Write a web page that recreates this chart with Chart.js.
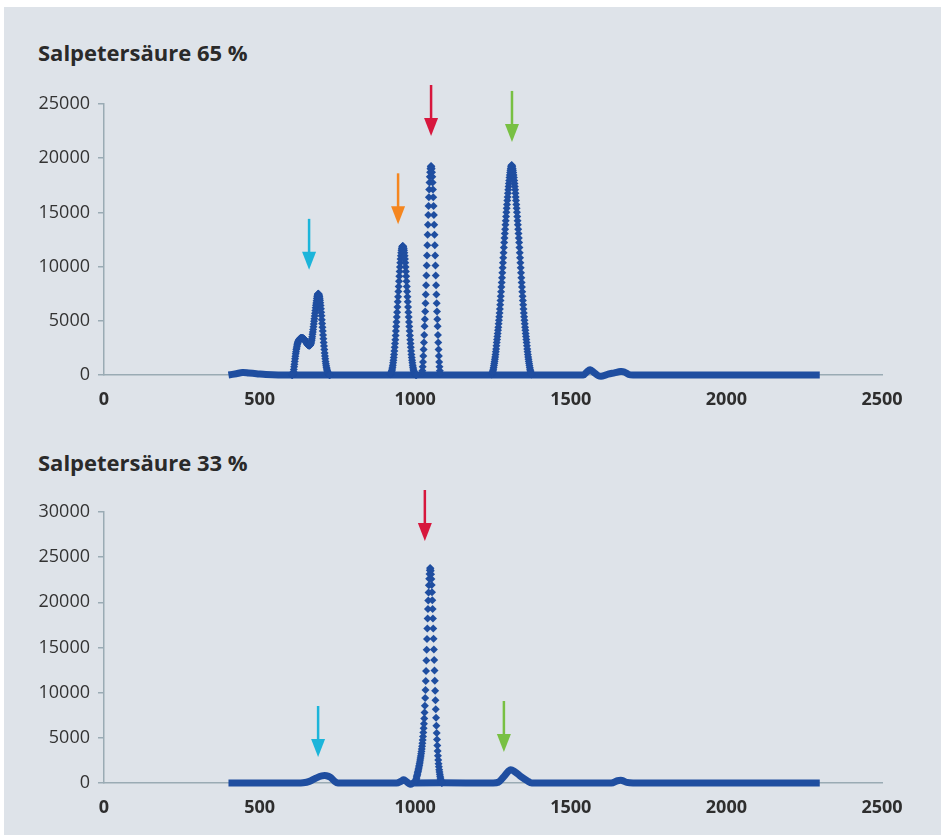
<!DOCTYPE html>
<html lang="de">
<head>
<meta charset="utf-8">
<script src="https://cdn.jsdelivr.net/npm/chart.js@4.4.1/dist/chart.umd.min.js"></script>
<style>
  html, body { margin: 0; padding: 0; background: #fff; }
  #panel { position: absolute; left: 4px; top: 7px; width: 937px; height: 828px; background: #dee3e9; }
  .titel { position: absolute; left: 38px; font: bold 22px "Open Sans"; line-height: 22px; color: #2a2a2a; }
  .box { position: absolute; left: 0; width: 943px; }
</style>
</head>
<body>
<div id="panel"></div>
<div class="titel" style="top:41px">Salpetersäure 65 %</div>
<div class="box" style="top:0;height:420px"><canvas id="chart65"></canvas></div>
<div class="titel" style="top:451px">Salpetersäure 33 %</div>
<div class="box" style="top:420px;height:415px"><canvas id="chart33"></canvas></div>
<script>
// Achsen
const xTicks = [0, 500, 1000, 1500, 2000, 2500];
const yTicks65 = [0, 5000, 10000, 15000, 20000, 25000];
const yTicks33 = [0, 5000, 10000, 15000, 20000, 25000, 30000];

// --- 65 % ---
// Grundlinie (flache Bereiche + kleine Buckel)
const grundX65 = [400, 425, 445, 465, 490, 520, 560, 1540, 1552, 1562, 1574, 1588, 1602, 1620, 1640, 1660, 1672, 1686, 1700, 2300];
const grundY65 = [0, 120, 220, 180, 120, 40, 0, 0, 300, 480, 250, -60, -100, 80, 200, 320, 280, 50, 0, 0];

// Peaks: Startwert, Schrittweite, Intensitäten
const peakStart65 = [604, 920, 1022, 1246];
const peakSchritt65 = [1, 1, 1, 1];
const peak65a = [0, 5, 20, 70, 150, 300, 500, 750, 1000, 1250, 1500, 1730, 1950, 2150, 2350, 2500, 2650, 2780, 2900, 2990,
  3080, 3140, 3200, 3250, 3300, 3330, 3360, 3380, 3400, 3410, 3420, 3420, 3420, 3410, 3400, 3390, 3380, 3360, 3340, 3310,
  3280, 3240, 3200, 3150, 3100, 3050, 3000, 2950, 2900, 2860, 2820, 2790, 2760, 2740, 2720, 2710, 2710, 2720, 2740, 2790,
  2850, 2940, 3050, 3190, 3350, 3540, 3750, 3970, 4200, 4450, 4700, 4950, 5200, 5450, 5700, 5950, 6200, 6430, 6650, 6860,
  7050, 7210, 7350, 7440, 7500, 7490, 7450, 7360, 7250, 7090, 6900, 6660, 6400, 6110, 5800, 5460, 5100, 4750, 4400, 4050,
  3700, 3350, 3000, 2670, 2350, 2040, 1750, 1490, 1250, 1040, 850, 690, 550, 430, 330, 250, 180, 120, 80, 50, 30, 10, 0];
const peak65b = [60, 100, 150, 220, 300, 420, 550, 720, 900, 1120, 1350, 1620, 1900, 2220, 2550, 2900, 3250, 3650, 4050, 4470,
  4900, 5350, 5800, 6270, 6750, 7220, 7700, 8170, 8650, 9100, 9550, 9960, 10350, 10690, 11000, 11270, 11500, 11670, 11800, 11880,
  11900, 11880, 11800, 11670, 11500, 11270, 11000, 10690, 10350, 9960, 9550, 9100, 8650, 8170, 7700, 7220, 6750, 6270, 5800, 5350,
  4900, 4470, 4050, 3650, 3250, 2900, 2550, 2220, 1900, 1620, 1350, 1120, 900, 720, 550, 420, 300, 220, 150, 100,
  60, 40, 20, 10, 0];
const peak65c = [150, 400, 750, 1200, 1750, 2350, 3000, 3700, 4490, 5140, 5850, 6610, 7420, 8270, 9170, 10090, 11030, 11980, 12930, 13850,
  14750, 15600, 16400, 17120, 17750, 18290, 18710, 19030, 19220, 19280, 19220, 19030, 18710, 18290, 17750, 17120, 16400, 15600, 14750, 13850,
  12930, 11980, 11030, 10090, 9170, 8270, 7420, 6610, 5850, 5140, 4490, 3700, 3000, 2350, 1750, 1200, 750, 400, 150];
const peak65d = [50, 100, 180, 280, 400, 540, 700, 870, 1050, 1240, 1450, 1670, 1900, 2140, 2400, 2700, 3000, 3280, 3560, 3830,
  4120, 4410, 4720, 5040, 5380, 5730, 6100, 6480, 6870, 7270, 7680, 8110, 8540, 8980, 9430, 9890, 10350, 10820, 11280, 11760,
  12220, 12640, 13050, 13450, 13850, 14240, 14630, 15010, 15380, 15740, 16090, 16430, 16760, 17080, 17380, 17670, 17950, 18210, 18450, 18680,
  18880, 19050, 19200, 19310, 19370, 19310, 19200, 19050, 18880, 18680, 18450, 18210, 17950, 17670, 17380, 17080, 16760, 16430, 16090, 15740,
  15380, 15010, 14630, 14240, 13850, 13450, 13050, 12640, 12220, 11760, 11280, 10820, 10350, 9890, 9430, 8980, 8540, 8110, 7680, 7270,
  6870, 6480, 6100, 5730, 5380, 5040, 4720, 4410, 4120, 3830, 3560, 3280, 3000, 2700, 2400, 2140, 1900, 1670, 1450, 1240,
  1050, 870, 700, 540, 400, 280, 180, 100, 50];

// Pfeile: Position, Spitze (Intensität), Farbe
const pfeilX65 = [659, 945, 1051, 1311];
const pfeilSpitze65 = [9700, 13900, 22050, 21500];
const pfeilFarbe65 = ["#1cb5da", "#f5861f", "#d7173d", "#78c043"];

// --- 33 % ---
const grundX33 = [400, 620, 640, 660, 680, 700, 715, 728, 740, 752, 940, 955, 963, 972, 985, 995, 1250, 1267, 1285, 1305, 1320, 1340, 1360, 1375, 1630, 1650, 1665, 1680, 1700, 2300];
const grundY33 = [0, 0, 30, 180, 520, 780, 800, 620, 220, 0, 0, 200, 350, 150, -150, 0, 0, 80, 700, 1450, 1250, 700, 250, 0, 0, 250, 280, 60, 0, 0];

const peakStart33 = [1000];
const peakSchritt33 = [1];
const peak33a = [100, 180, 280, 400, 530, 680, 830, 980, 1130, 1280, 1430, 1590, 1760, 1940, 2130, 2330, 2540, 2760, 2990, 3230,
  3490, 3770, 4070, 4400, 4760, 5150, 5580, 6050, 6560, 7150, 7800, 8550, 9400, 10300, 11300, 12400, 13550, 14750, 15950, 17100,
  18200, 19250, 20200, 21100, 21900, 22600, 23150, 23550, 23800, 23720, 23490, 23100, 22570, 21910, 21130, 20240, 19260, 18210, 17100, 15960,
  14790, 13620, 12450, 11320, 10210, 9160, 8160, 7220, 6350, 5540, 4810, 4140, 3550, 3020, 2550, 2140, 1790, 1480, 1220, 980,
  760, 560, 380, 230, 110, 40, 0];

const pfeilX33 = [688, 1031, 1285];
const pfeilSpitze33 = [2880, 26790, 3430];
const pfeilFarbe33 = ["#1cb5da", "#d7173d", "#78c043"];

const blau = "#1f4ea0";
const achsenFarbe = "#9aabb4";

function punkte(xs, ys) {
  return xs.map((x, i) => ({ x: x, y: ys[i] }));
}

function peakPunkte(starts, schritte, listen) {
  const out = [];
  listen.forEach((werte, k) => {
    werte.forEach((v, i) => out.push({ x: starts[k] + i * schritte[k], y: v }));
  });
  return out;
}

function pfeilPlugin(xs, spitzen, farben) {
  return {
    id: "pfeile",
    afterDatasetsDraw(chart) {
      const { ctx, scales } = chart;
      ctx.save();
      xs.forEach((xv, i) => {
        const px = scales.x.getPixelForValue(xv);
        const py = scales.y.getPixelForValue(spitzen[i]);
        ctx.strokeStyle = farben[i];
        ctx.fillStyle = farben[i];
        ctx.lineWidth = 2.5;
        ctx.beginPath();
        ctx.moveTo(px, py - 51);
        ctx.lineTo(px, py - 15);
        ctx.stroke();
        ctx.beginPath();
        ctx.moveTo(px - 7, py - 18);
        ctx.lineTo(px + 7, py - 18);
        ctx.lineTo(px, py);
        ctx.closePath();
        ctx.fill();
      });
      ctx.restore();
    }
  };
}

function diagramm(id, grund, peaks, yTicks, oben, xHoehe, plugin) {
  return new Chart(document.getElementById(id), {
    type: "scatter",
    data: {
      datasets: [
        {
          data: peaks,
          pointStyle: "rectRot",
          pointRadius: 4,
          pointBorderWidth: 0,
          backgroundColor: blau,
          borderColor: blau,
          clip: false
        },
        {
          data: grund,
          showLine: true,
          pointRadius: 0,
          borderWidth: 7,
          borderColor: blau,
          tension: 0.35,
          clip: false
        }
      ]
    },
    options: {
      responsive: true,
      maintainAspectRatio: false,
      animation: false,
      layout: { padding: { top: oben, right: 61, bottom: 0, left: 0 } },
      plugins: { legend: { display: false }, tooltip: { enabled: false } },
      scales: {
        x: {
          type: "linear",
          min: xTicks[0],
          max: xTicks[xTicks.length - 1],
          z: 1,
          grid: { display: false, drawTicks: false },
          border: { display: true, color: achsenFarbe, width: 1.5 },
          ticks: {
            stepSize: xTicks[1] - xTicks[0],
            padding: 14,
            maxRotation: 0,
            color: "#2e2e2e",
            font: { family: "Open Sans", size: 18, weight: "bold" },
            callback: (v) => String(v)
          },
          afterFit: (s) => { s.height = xHoehe; }
        },
        y: {
          min: yTicks[0],
          max: yTicks[yTicks.length - 1],
          grid: { display: true, drawOnChartArea: false, drawTicks: true, tickLength: 6, color: achsenFarbe, lineWidth: 1.5 },
          border: { display: true, color: achsenFarbe, width: 1.5 },
          ticks: {
            stepSize: yTicks[1] - yTicks[0],
            padding: 8,
            color: "#333",
            font: { family: "Open Sans", size: 18 },
            callback: (v) => String(v)
          },
          afterFit: (s) => { s.width = 104; }
        }
      }
    },
    plugins: [plugin]
  });
}

diagramm("chart65", punkte(grundX65, grundY65),
  peakPunkte(peakStart65, peakSchritt65, [peak65a, peak65b, peak65c, peak65d]),
  yTicks65, 104, 45, pfeilPlugin(pfeilX65, pfeilSpitze65, pfeilFarbe65));

diagramm("chart33", punkte(grundX33, grundY33),
  peakPunkte(peakStart33, peakSchritt33, [peak33a]),
  yTicks33, 92, 52, pfeilPlugin(pfeilX33, pfeilSpitze33, pfeilFarbe33));
</script>
</body>
</html>
